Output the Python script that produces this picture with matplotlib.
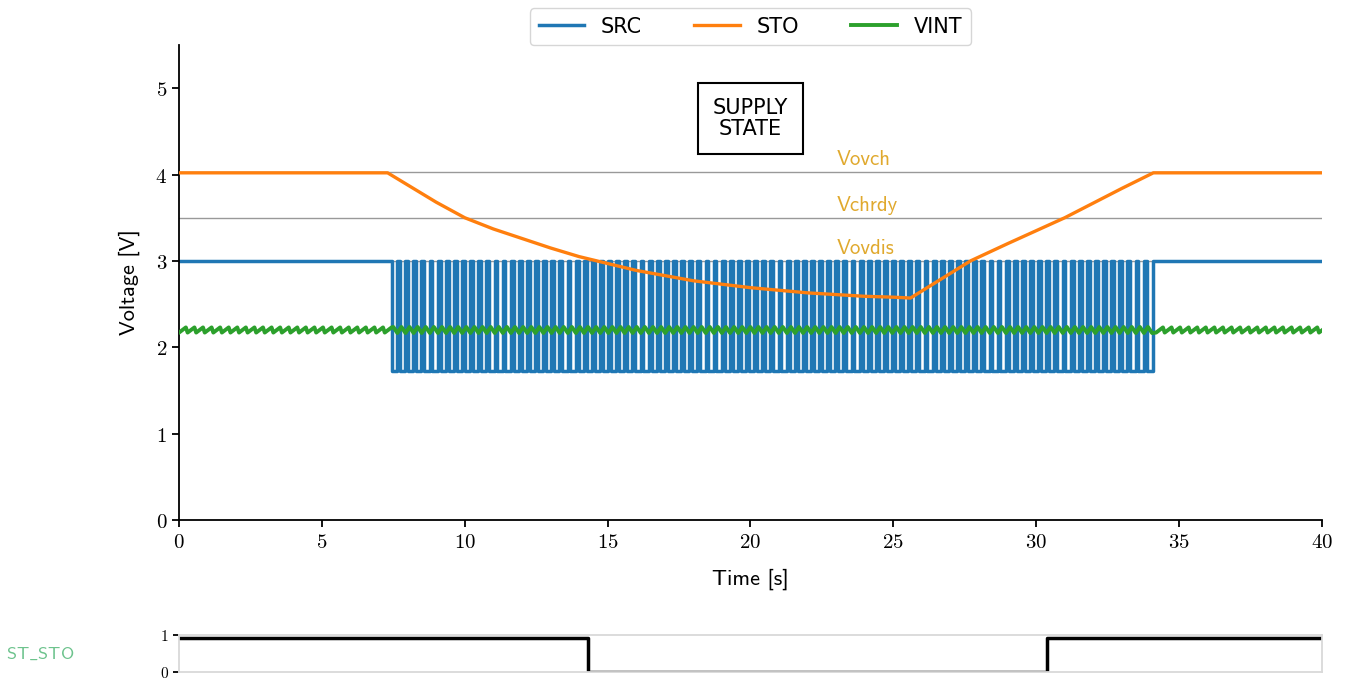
import matplotlib
matplotlib.use('Agg')
import matplotlib.pyplot as plt
from matplotlib.ticker import FuncFormatter
import numpy as np

plt.rcParams['mathtext.fontset'] = 'cm'

# supply source: constant, then switched between two levels
src_high = 3.0
src_low = 1.72
sw_start = 7.35
sw_end = 34.1
sw_period = 0.284
sw_on = 0.1

# storage voltage
sto_t = [0, 7.3, 8, 9, 10, 11, 12, 13, 14, 15, 16, 17, 18, 19, 20, 21, 22, 23, 24, 25, 25.6,
         27.7, 29, 30, 31, 32, 33, 34.1, 40]
sto_v = [4.02, 4.02, 3.88, 3.68, 3.5, 3.37, 3.26, 3.15, 3.05, 2.97, 2.89, 2.83, 2.77, 2.73,
         2.69, 2.66, 2.63, 2.61, 2.59, 2.58, 2.57,
         3.0, 3.2, 3.35, 3.5, 3.67, 3.84, 4.02, 4.02]

# internal rail
vint_level = 2.2
vint_ripple = 0.06
vint_sw_ripple = 0.07
vint_period = 0.3

# thresholds
thr_names = ['Vovch', 'Vchrdy', 'Vovdis']
thr_vals = [4.03, 3.5, 3.0]

# supply state signal
st_t = [0, 14.33, 30.38, 40]
st_v = [0.92, 0, 0.92, 0.92]

# build SRC waveform: short highs between long lows
edges = np.arange(sw_start, sw_end - sw_period, sw_period)
s_t = [0, sw_start]
s_v = [src_high, src_high]
for e in edges:
    s_t += [e, e + sw_on, e + sw_on, e + sw_period]
    s_v += [src_high, src_high, src_low, src_low]
s_t += [sw_end, sw_end, 40]
s_v += [src_low, src_high, src_high]

# build VINT waveform
vint_t = []
vint_v = []
tt = 0.0
while tt < 40:
    if sw_start <= tt < sw_end:
        vint_t += [tt, tt + sw_period / 2]
        vint_v += [vint_level + vint_sw_ripple / 2, vint_level - vint_sw_ripple / 2]
        tt += sw_period
    else:
        vint_t += [tt, tt + vint_period * 0.8]
        vint_v += [vint_level - vint_ripple / 2, vint_level + vint_ripple / 2]
        tt += vint_period

fig = plt.figure(figsize=(13.47, 6.79), dpi=100)
ax = fig.add_axes([0.1329, 0.2342, 0.8485, 0.6995])
ax2 = fig.add_axes([0.1329, 0.0096, 0.8485, 0.0559])

cm_fmt = FuncFormatter(lambda x, p: '$%d$' % x)

for name, val in zip(thr_names, thr_vals):
    ax.axhline(val, color='#999999', lw=1.0, zorder=1)
    ax.text(23.0, val + 0.08, name, color='#e0a92e', fontsize=15, family='cmss10')

ax.plot(s_t, s_v, color='#1f77b4', lw=2.5, label='SRC', zorder=2)
ax.plot(sto_t, sto_v, color='#ff7f0e', lw=2.4, label='STO', zorder=4)
ax.plot(vint_t, vint_v, color='#2ca02c', lw=2.8, label='VINT', zorder=3)

ax.set_xlim(0, 40)
ax.set_ylim(0, 5.5)
ax.set_xticks(np.arange(0, 41, 5))
ax.set_yticks(np.arange(0, 6, 1))
ax.xaxis.set_major_formatter(cm_fmt)
ax.yaxis.set_major_formatter(cm_fmt)
ax.tick_params(labelsize=15, length=5, width=1.3)
for s in ['top', 'right']:
    ax.spines[s].set_visible(False)
for s in ['left', 'bottom']:
    ax.spines[s].set_linewidth(1.3)
ax.set_xlabel('Time [s]', fontsize=16, family='cmss10', labelpad=12)
ax.set_ylabel('Voltage [V]', fontsize=16, family='cmss10', labelpad=11)

ax.text(20, 4.65, 'SUPPLY\nSTATE', ha='center', va='center', fontsize=15,
        linespacing=1.1,
        bbox=dict(boxstyle='square,pad=0.7', fc='white', ec='black', lw=1.5))

ax.legend(loc='lower center', bbox_to_anchor=(0.5, 1.0), ncol=3, fontsize=15,
          handlelength=2.2, columnspacing=2.5, borderaxespad=0.0)

ax2.step(st_t, st_v, where='post', color='black', lw=2.5)
ax2.set_xlim(0, 40)
ax2.set_ylim(0, 1)
ax2.set_yticks([0, 1])
ax2.set_xticks([])
ax2.yaxis.set_major_formatter(cm_fmt)
ax2.tick_params(labelsize=11, length=4, width=1.3)
for s in ax2.spines.values():
    s.set_color('#d9d9d9')
    s.set_linewidth(1.3)
ax2.set_ylabel(r'$\mathsf{ST\_STO}$', rotation=0, color='#6dc38d', fontsize=13,
               ha='left', va='center')
ax2.yaxis.set_label_coords(-0.151, 0.5)

fig.savefig('out.png', dpi=100)
